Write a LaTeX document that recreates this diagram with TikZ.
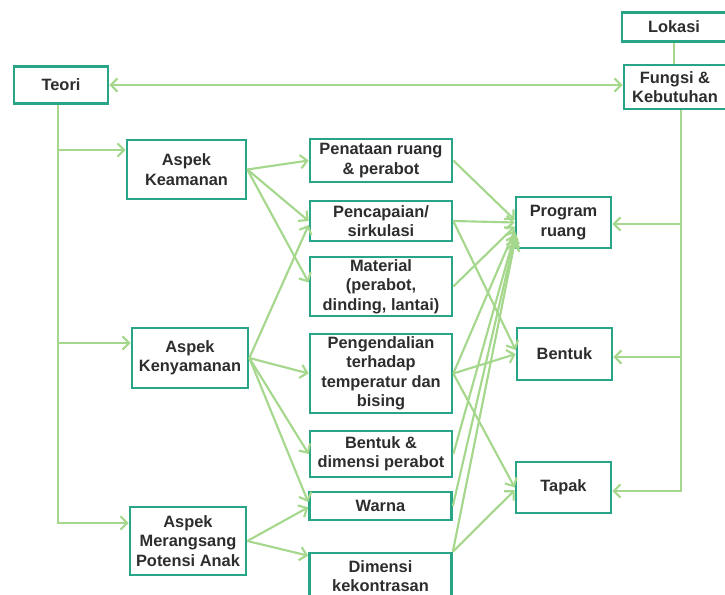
\documentclass[tikz,border=0pt]{standalone}
\usepackage{fontspec}
\setmainfont{Liberation Sans}
\usetikzlibrary{arrows.meta, calc}
\definecolor{boxteal}{RGB}{40, 165, 135}
\definecolor{linkgreen}{RGB}{165, 215, 140}
\definecolor{textgray}{RGB}{45, 45, 45}

\begin{document}
\begin{tikzpicture}[x=0.75pt, y=-0.75pt,
  blok/.style={draw=boxteal, line width=2pt, align=center, inner sep=1pt, text=textgray, font=\fontsize{12.3}{14.6}\selectfont\bfseries},
  midblok/.style={blok, minimum width=106.5pt},
  endblok/.style={blok, minimum width=71.25pt, minimum height=38.25pt},
  link/.style={draw=linkgreen, line width=1.6pt},
  tip/.style={link, -{Straight Barb[length=5pt, width=10pt]}}
]
  \useasboundingbox (0,0) rectangle (725,595);

  % Left column
  \node[blok, minimum width=70.5pt, minimum height=27.75pt] (teori) at (61,85) {Teori};
  \node[blok, minimum width=89.25pt, minimum height=44.25pt] (keamanan) at (186.5,169.5) {Aspek\\Keamanan};
  \node[blok, minimum width=87pt, minimum height=45pt] (kenyamanan) at (190,358) {Aspek\\Kenyamanan};
  \node[blok, minimum width=87pt, minimum height=51pt] (merangsang) at (188,541) {Aspek\\Merangsang\\Potensi Anak};

  % Middle column
  \node[midblok, minimum height=32.25pt] (penataan) at (381,160.5) {Penataan ruang\\\& perabot};
  \node[midblok, minimum height=30pt] (pencapaian) at (381,221) {Pencapaian/\\sirkulasi};
  \node[midblok, minimum height=44.25pt] (material) at (381,286.5) {Material\\(perabot,\\dinding, lantai)};
  \node[midblok, minimum height=59.25pt] (pengendalian) at (381,373.5) {Pengendalian\\terhadap\\temperatur dan\\bising};
  \node[midblok, minimum height=34.5pt] (bentukdim) at (381,454) {Bentuk \&\\dimensi perabot};
  \node[midblok, minimum height=21pt] (warna) at (380.5,506) {Warna};
  \node[midblok, minimum height=34.5pt] (dimensi) at (380.5,576) {Dimensi\\kekontrasan};

  % Right column
  \node[endblok] (program) at (563.5,222.5) {Program\\ruang};
  \node[endblok, minimum height=39pt] (bentuk) at (564.5,354) {Bentuk};
  \node[endblok] (tapak) at (563.5,487.5) {Tapak};
  \node[blok, minimum width=78pt, minimum height=21.75pt] (lokasi) at (674,27) {Lokasi};
  \node[blok, minimum width=76.5pt, minimum height=33pt] (fungsi) at (675,87) {Fungsi \&\\Kebutuhan};

  % Teori <-> Fungsi
  \draw[link, {Straight Barb[length=5pt, width=10pt]}-{Straight Barb[length=5pt, width=10pt]}] (teori.east) -- (teori.east -| fungsi.west);
  \draw[link] (lokasi.south) -- (lokasi.south |- fungsi.north);

  % Teori branches
  \coordinate (t1) at (58,150);
  \coordinate (t2) at (58,343);
  \coordinate (t3) at (58,523);
  \draw[tip] (teori.south -| t3) -- (t3) -- (t3 -| merangsang.west);
  \draw[tip] (t1) -- (t1 -| keamanan.west);
  \draw[tip] (t2) -- (t2 -| kenyamanan.west);

  % Fungsi branches
  \coordinate (f1) at (681,224);
  \coordinate (f2) at (681,357);
  \coordinate (f3) at (681,491);
  \draw[tip] (fungsi.south -| f3) -- (f3) -- (f3 -| tapak.east);
  \draw[tip] (f1) -- (f1 -| program.east);
  \draw[tip] (f2) -- (f2 -| bentuk.east);

  % Aspek -> kriteria
  \draw[tip] (keamanan.east) -- (penataan.west);
  \draw[tip] (keamanan.east) -- (pencapaian.west);
  \draw[tip] (keamanan.east) -- ([yshift=3pt]material.west);
  \draw[tip] (kenyamanan.east) -- ([yshift=-3pt]pencapaian.west);
  \draw[tip] (kenyamanan.east) -- (pengendalian.west);
  \draw[tip] (kenyamanan.east) -- (bentukdim.west);
  \draw[tip] (kenyamanan.east) -- ([yshift=3pt]warna.west);
  \draw[tip] (merangsang.east) -- ([yshift=-1pt]warna.west);
  \draw[tip] (merangsang.east) -- ([yshift=-3pt]dimensi.north west);

  % Kriteria -> hasil
  \draw[tip] (penataan.east) -- ([yshift=2pt]program.west);
  \draw[tip] (pencapaian.east) -- (program.west);
  \draw[tip] (pencapaian.east) -- ([yshift=3pt]bentuk.west);
  \draw[tip] (material.east) -- ([yshift=-3pt]program.west);
  \draw[tip] (pengendalian.east) -- ([yshift=-6pt]program.west);
  \draw[tip] (pengendalian.east) -- (bentuk.west);
  \draw[tip] (pengendalian.east) -- (tapak.west);
  \draw[tip] (bentukdim.east) -- ([yshift=-9pt]program.west);
  \draw[tip] (warna.east) -- ([yshift=-12pt]program.west);
  \draw[tip] (dimensi.north east) -- ([yshift=-15pt]program.west);
  \draw[tip] (dimensi.north east) -- ([yshift=-2pt]tapak.west);
\end{tikzpicture}
\end{document}
